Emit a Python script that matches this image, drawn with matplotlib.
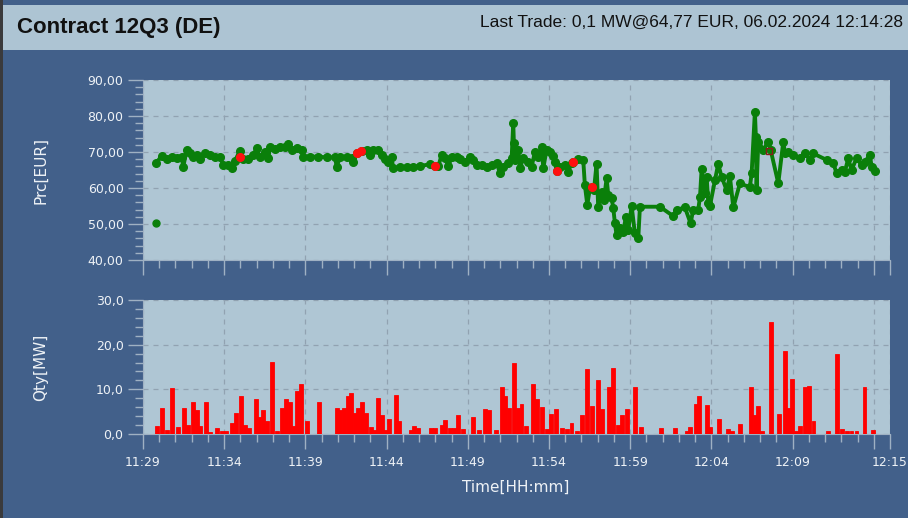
import matplotlib.pyplot as plt
from matplotlib.patches import Rectangle
from matplotlib.ticker import MultipleLocator, FixedLocator, FuncFormatter

# time axis: minutes after 11:29
price_t = [0.80, 1.15, 1.46, 1.77, 2.07, 2.38, 2.48, 2.69, 2.89, 3.10, 3.30, 3.51,
           3.82, 4.13, 4.43, 4.74, 4.95, 5.25, 5.46, 5.67, 5.97, 6.18, 6.49, 6.79,
           7.00, 7.20, 7.51, 7.72, 7.82, 8.13, 8.44, 8.74, 8.95, 9.15, 9.46, 9.77,
           9.87, 10.28, 10.80, 11.31, 11.82, 11.93, 12.13, 12.54, 12.85, 12.95, 13.16,
           13.46, 13.77, 13.98, 14.18, 14.49, 14.70, 14.90, 15.11, 15.31, 15.41, 15.82,
           16.24, 16.65, 17.06, 17.67, 17.98, 18.19, 18.39, 18.60, 18.80, 19.01, 19.31,
           19.52, 19.83, 20.14, 20.34, 20.55, 20.85, 21.16, 21.47, 21.78, 21.98,
           22.19, 22.49, 22.70, 22.80, 22.84, 22.90, 23.11, 23.21, 23.42, 23.72, 23.93,
           24.14, 24.34, 24.55, 24.65, 24.85, 25.06, 25.26, 25.37, 25.47, 25.67, 25.98,
           26.19, 26.39, 26.50, 26.80, 27.11, 27.21, 27.36, 27.52, 27.62, 27.77, 27.93,
           28.03, 28.24, 28.38, 28.55, 28.65, 28.86, 28.96, 29.06, 29.16, 29.37, 29.57,
           29.74, 29.88, 30.09, 30.29, 30.50, 30.60, 31.83, 32.65, 32.86, 33.37, 33.72,
           33.88, 34.19, 34.30, 34.40, 34.50, 34.60, 34.71, 34.81, 34.91, 35.22, 35.42,
           35.63, 35.94, 36.14, 36.35, 36.76, 37.37, 37.48, 37.68, 37.74, 37.78, 37.89,
           38.20, 38.50, 38.65, 39.12, 39.43, 39.53, 39.74, 40.04, 40.45, 40.76, 41.07,
           41.27, 42.10, 42.51, 42.71, 43.02, 43.22, 43.43, 43.63, 43.94, 44.25, 44.46,
           44.76, 44.87, 45.07]
price_v = [66.9, 68.9, 68.0, 68.5, 68.25, 68.5, 65.9, 70.6, 69.6, 68.5, 69.2, 68.0,
           69.8, 69.2, 68.5, 68.5, 66.4, 66.4, 65.5, 67.6, 70.4, 68.0, 68.0, 69.2,
           71.0, 68.5, 70.1, 68.25, 71.3, 70.7, 71.5, 71.3, 72.2, 70.6, 71.0, 70.6,
           68.7, 68.7, 68.7, 68.5, 68.5, 65.9, 68.5, 68.7, 68.25, 67.3, 69.8,
           70.3, 70.6, 69.2, 70.6, 70.6, 69.2, 68.0, 67.3, 68.5, 65.5, 65.7,
           65.7, 65.9, 66.1, 66.6, 66.2, 66.1, 69.2, 68.25, 66.1, 68.5, 68.5,
           68.0, 67.3, 68.5, 67.8, 66.4, 66.4, 65.9, 66.4, 67.0, 64.1,
           65.9, 66.9, 68.25, 78.0, 72.4, 67.8, 70.6, 65.5, 68.25, 67.3, 65.9,
           70.1, 68.7, 71.3, 65.5, 70.6, 70.1, 68.9, 67.3, 64.7, 65.9, 66.4,
           64.5, 67.0, 67.1, 68.0, 67.8, 60.8, 55.3, 59.9, 60.2, 59.4, 66.7,
           54.8, 59.0, 56.7, 62.7, 58.1, 57.1, 54.4, 50.2, 47.0, 48.8, 47.9,
           52.0, 48.3, 55.0, 47.4, 46.0, 54.8, 54.8, 52.2, 53.9, 54.6, 50.2,
           53.9, 53.9, 57.6, 65.3, 61.3, 58.5, 63.0, 55.7, 55.0, 62.2, 66.7,
           63.1, 59.4, 63.3, 54.6, 61.3, 60.2, 64.1, 81.2, 74.3, 59.4, 72.9,
           70.6, 72.9, 70.6, 61.3, 72.9, 69.6, 70.1, 69.2, 68.25, 69.6, 67.8,
           69.6, 67.8, 66.9, 64.1, 65.0, 64.5, 68.25, 65.0, 68.25, 66.4, 67.3,
           69.2, 65.9, 64.77]

# single off-market print at the start
outlier_t = [0.80]
outlier_v = [50.2]

# highlighted trades
own_t = [5.97, 13.20, 13.40, 17.98, 25.47, 26.50, 27.62]
own_v = [68.5, 69.8, 70.3, 66.2, 64.7, 67.1, 60.2]
sel_t = [38.55]
sel_v = [70.3]

qty_t = [0.88, 1.19, 1.46, 1.81, 2.13, 2.50, 2.79, 3.06, 3.30, 3.51, 3.90, 4.15,
         4.56, 4.84, 5.11, 5.46, 5.71, 6.03, 6.26, 6.55, 6.96, 7.16, 7.37, 7.64,
         7.92, 8.23, 8.56, 8.80, 9.05, 9.26, 9.48, 9.75, 10.08, 10.84, 11.93, 12.15,
         12.38, 12.62, 12.83, 13.03, 13.24, 13.46, 13.73, 14.02, 14.27, 14.47, 14.70,
         14.90, 15.13, 15.58, 15.78, 16.50, 16.71, 16.95, 17.71, 17.98, 18.39, 18.60,
         18.90, 19.15, 19.42, 19.68, 20.32, 20.71, 21.04, 21.33, 21.72,
         22.08, 22.29, 22.55, 22.84, 23.11, 23.31, 23.58, 23.99, 24.24, 24.59, 24.89,
         25.14, 25.43, 25.80, 26.13, 26.39, 26.70, 27.01, 27.32, 27.65, 28.01, 28.26,
         28.69, 28.94, 29.27, 29.49, 29.80, 30.29, 30.66, 31.91, 32.78, 33.47, 33.70,
         34.05, 34.25, 34.71, 34.93, 35.45, 36.02, 36.29, 36.78, 37.46, 37.66, 37.87,
         38.11, 38.65, 39.14, 39.51, 39.73, 39.96, 40.20, 40.45, 40.78, 41.03, 41.29,
         42.20, 42.75, 43.02, 43.33, 43.63, 43.94, 44.43, 44.93]
qty_v = [1.8, 5.75, 0.8, 10.2, 1.5, 5.75, 2.0, 7.24, 5.4, 1.8, 7.24, 0.5,
         1.27, 0.75, 0.75, 2.5, 4.6, 8.6, 2.0, 1.3, 7.8, 3.9, 5.4, 3.0,
         16.2, 0.75, 5.75, 7.8, 7.24, 1.8, 9.6, 11.2, 3.0, 7.24, 5.75, 5.4,
         5.75, 8.4, 9.1, 4.6, 5.75, 7.24, 4.6, 1.6, 1.0, 8.1, 4.3,
         1.0, 3.3, 8.7, 3.0, 0.9, 1.8, 1.3, 1.3, 1.3, 2.0, 3.2,
         1.3, 1.3, 4.3, 1.05, 3.7, 0.9, 5.7, 5.4, 0.9,
         10.6, 8.6, 5.75, 15.8, 5.75, 6.7, 1.8, 11.3, 7.8, 6.1, 1.05,
         4.5, 5.7, 1.27, 1.05, 2.4, 0.75, 4.26, 14.6, 6.3, 12.1, 5.5,
         10.6, 14.85, 2.0, 4.3, 5.7, 10.6, 1.6, 1.27, 1.27, 0.75, 1.6,
         6.7, 8.5, 6.5, 1.6, 3.3, 1.05, 0.75, 2.24, 10.6, 4.26, 6.3,
         0.75, 25.0, 4.4, 18.66, 5.75, 12.4, 0.75, 1.8, 10.6, 10.8, 2.9,
         0.75, 17.8, 1.1, 0.75, 0.75, 0.75, 10.6, 0.9]

x_labels = ['11:29', '11:34', '11:39', '11:44', '11:49', '11:54', '11:59', '12:04', '12:09', '', '12:15']
x_major = [0, 5, 10, 15, 20, 25, 30, 35, 40, 45, 46]

bg = '#42608a'
panel = '#afc6d4'
tick_col = '#9fb1c3'
text_col = '#eef2f6'
grid_col = '#91a2b1'

fig = plt.figure(figsize=(9.08, 5.18), dpi=100, facecolor=bg)

# header bar and left border
fig.patches.append(Rectangle((3 / 908, 1 - 50 / 518), 1, 45 / 518, transform=fig.transFigure,
                             facecolor='#adc4d3', edgecolor='none', zorder=0))
fig.patches.append(Rectangle((0, 0), 3 / 908, 1, transform=fig.transFigure,
                             facecolor='#3a3a3c', edgecolor='none', zorder=0))
fig.text(17 / 908, 1 - 27 / 518, 'Contract 12Q3 (DE)', fontsize=16, fontweight='bold',
         family='Liberation Sans', color='#111111', va='center', ha='left')
fig.text(903 / 908, 1 - 22 / 518, 'Last Trade: 0,1 MW@64,77 EUR, 06.02.2024 12:14:28', fontsize=12.5,
         family='Liberation Sans', color='#111111', va='center', ha='right')

ax1 = fig.add_axes([143 / 908, 1 - 260 / 518, 747 / 908, 180 / 518])
ax2 = fig.add_axes([143 / 908, 1 - 434 / 518, 747 / 908, 134 / 518])

for ax in (ax1, ax2):
    ax.set_facecolor(panel)
    ax.set_xlim(0, 46)
    for s in ('top', 'right'):
        ax.spines[s].set_visible(False)
    for s in ('left', 'bottom'):
        ax.spines[s].set_color(tick_col)
    ax.xaxis.set_major_locator(FixedLocator(x_major))
    ax.xaxis.set_minor_locator(MultipleLocator(1))
    ax.tick_params(which='major', length=11, width=1, color=tick_col, labelcolor=text_col, labelsize=9, pad=3)
    ax.tick_params(which='minor', length=5.5, width=1, color=tick_col)
    ax.grid(True, which='major', color=grid_col, linestyle=(0, (4, 4)), linewidth=0.9)
    ax.set_axisbelow(True)

# price panel
ax1.plot(price_t, price_v, '-o', color='#0a7f0a', linewidth=2.8, markersize=5.5, zorder=3)
ax1.plot(outlier_t, outlier_v, 'o', color='#0a7f0a', markersize=5, zorder=3)
ax1.plot(own_t, own_v, 'o', color='#ff1010', markersize=5.5, zorder=4)
ax1.plot(sel_t, sel_v, 's', markerfacecolor='none', markeredgecolor='#8b1a1a', markersize=5, zorder=4)
ax1.set_ylim(40, 90)
ax1.yaxis.set_major_locator(MultipleLocator(10))
ax1.yaxis.set_minor_locator(MultipleLocator(2))
ax1.yaxis.set_major_formatter(FuncFormatter(lambda v, p: f'{v:.2f}'.replace('.', ',')))
ax1.set_xticklabels([])
ax1.set_ylabel('Prc[EUR]', color=text_col, fontsize=11)
ax1.yaxis.set_label_coords(-0.127, 0.5)

# quantity panel
ax2.bar(qty_t, qty_v, width=0.24, color='#ff0000', edgecolor='#ff0000', linewidth=0.6, zorder=3)
ax2.set_ylim(0, 30)
ax2.yaxis.set_major_locator(MultipleLocator(10))
ax2.yaxis.set_minor_locator(MultipleLocator(2))
ax2.yaxis.set_major_formatter(FuncFormatter(lambda v, p: f'{v:.1f}'.replace('.', ',')))
ax2.set_xticklabels(x_labels)
ax2.tick_params(axis='x', which='major', pad=5)
ax2.set_ylabel('Qty[MW]', color=text_col, fontsize=11)
ax2.yaxis.set_label_coords(-0.127, 0.5)

fig.text(516 / 908, 1 - 487 / 518, 'Time[HH:mm]', color=text_col, fontsize=11, ha='center', va='center')

fig.savefig('out.png', dpi=100, facecolor=bg)
